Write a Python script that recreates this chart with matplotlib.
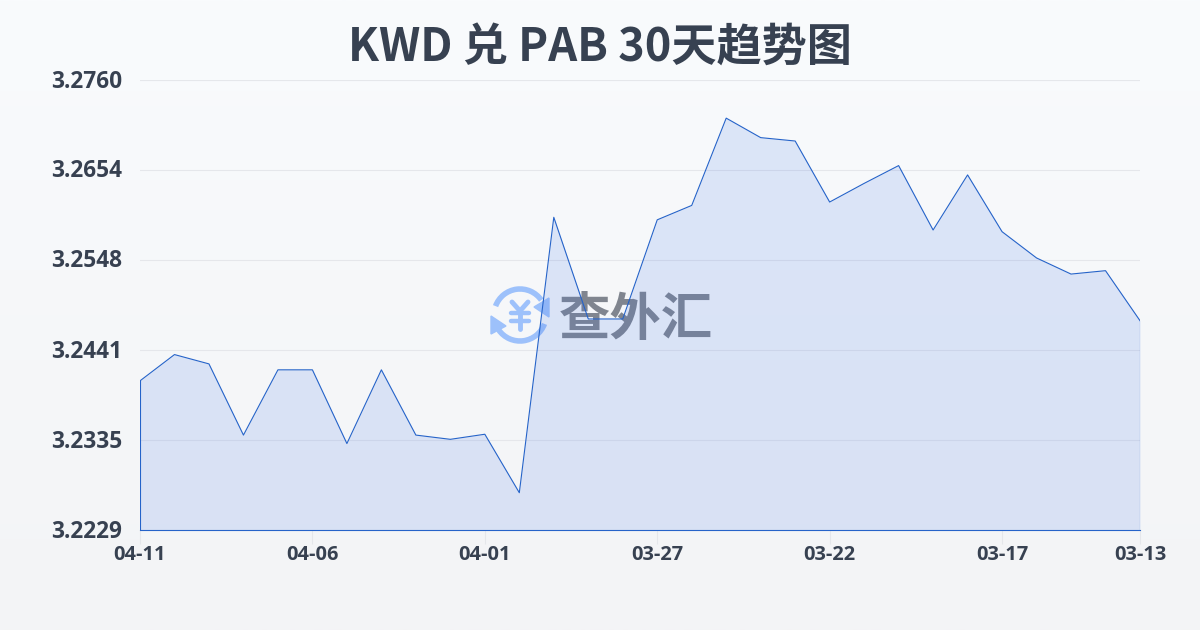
import matplotlib
matplotlib.use('Agg')
import matplotlib.pyplot as plt
from matplotlib.patches import Arc, Polygon
from matplotlib.transforms import ScaledTranslation
import numpy as np

plt.rcParams['font.family'] = ['Open Sans', 'Noto Sans', 'DejaVu Sans']

dates = ['04-11', '04-10', '04-09', '04-08', '04-07', '04-06', '04-05', '04-04', '04-03', '04-02',
         '04-01', '03-31', '03-30', '03-29', '03-28', '03-27', '03-26', '03-25', '03-24', '03-23',
         '03-22', '03-21', '03-20', '03-19', '03-18', '03-17', '03-16', '03-15', '03-14', '03-13']
rates = [3.2405, 3.2436, 3.2425, 3.2341, 3.2418, 3.2418, 3.2331, 3.2418, 3.2341, 3.2336,
         3.2342, 3.2273, 3.2598, 3.2478, 3.2478, 3.2595, 3.2612, 3.2715, 3.2692, 3.2688,
         3.2616, 3.2638, 3.2659, 3.2583, 3.2648, 3.2581, 3.2550, 3.2531, 3.2535, 3.2476]
y_ticks = [3.2229, 3.2335, 3.2441, 3.2548, 3.2654, 3.2760]
x_ticks = [0, 5, 10, 15, 20, 25, 29]
title = 'KWD 兑 PAB 30天趋势图'

W, H = 1200, 630
fig = plt.figure(figsize=(W / 100, H / 100), dpi=100)

# page background and watermark, in pixel coordinates
bg = fig.add_axes([0, 0, 1, 1], zorder=0)
grad = np.linspace(0, 1, 256).reshape(-1, 1, 1)
top = np.array([0xf9, 0xfb, 0xfd]) / 255
bottom = np.array([0xf3, 0xf4, 0xf6]) / 255
bg.imshow(top + (bottom - top) * grad, extent=[0, W, H, 0], aspect='auto')
bg.set_xlim(0, W)
bg.set_ylim(H, 0)
bg.axis('off')

blue = '#9dc1fb'
cx, cy = 520, 315
bg.add_patch(Arc((cx, cy), 52, 52, theta1=200, theta2=325, color=blue, lw=4))
bg.add_patch(Arc((cx, cy), 52, 52, theta1=20, theta2=145, color=blue, lw=4))
bg.add_patch(Polygon([[549, 298], [549, 317], [534, 307]], color=blue))
bg.add_patch(Polygon([[491, 316], [491, 334], [506, 326]], color=blue))
bg.plot([cx - 8, cx, cx + 8], [302, 311, 302], color=blue, lw=3.5, solid_capstyle='round')
bg.plot([cx, cx], [311, 329], color=blue, lw=3.5, solid_capstyle='round')
bg.plot([cx - 9, cx + 9], [313, 313], color=blue, lw=3.2, solid_capstyle='round')
bg.plot([cx - 9, cx + 9], [321, 321], color=blue, lw=3.2, solid_capstyle='round')
bg.text(636, 320, '查外汇', family=['Noto Sans CJK SC', 'DejaVu Sans'], fontsize=37, fontweight='bold',
        color='#80858f', ha='center', va='center')

fig.text(0.5, 1 - 48 / H, title, family=['Noto Sans CJK SC', 'DejaVu Sans'], fontsize=32.5,
         fontweight='bold', color='#374151', ha='center', va='center')

# plot area: x 140..1140, y 80..530
ax = fig.add_axes([140 / W, 1 - 530 / H, 1000 / W, 450 / H], zorder=1)
ax.patch.set_alpha(0)
x = np.arange(len(rates))
ax.fill_between(x, rates, y_ticks[0], color='#3f73e6', alpha=0.15, lw=0, zorder=2)
ax.plot(x, rates, color='#2563c9', lw=0.8, zorder=3)
ax.plot([0, 0], [y_ticks[0], rates[0]], color='#2563c9', lw=0.8, zorder=3)
ax.plot([29, 29], [y_ticks[0], rates[-1]], color='#2563c9', lw=0.8, zorder=3)

ax.set_xlim(0, 29)
ax.set_ylim(y_ticks[0], y_ticks[-1])
ax.set_yticks(y_ticks)
ax.set_yticklabels(['%.4f' % v for v in y_ticks], fontsize=16.3, fontweight='bold', color='#374151')
ax.set_xticks(x_ticks)
ax.set_xticklabels([dates[i] for i in x_ticks], fontsize=14.4, fontweight='bold', color='#374151')
ax.tick_params(axis='y', length=0, pad=13)
ax.tick_params(axis='x', length=10, width=0.8, color='#e5e7eb', pad=1)
ax.grid(axis='y', color='#e5e7eb', lw=0.8, zorder=1)
ax.set_axisbelow(True)
for side in ['top', 'left', 'right']:
    ax.spines[side].set_visible(False)
ax.spines['bottom'].set_color('#2563c9')
ax.spines['bottom'].set_linewidth(0.8)

# y labels sit a little above their gridlines
up = ScaledTranslation(0, 1.5 / 100, fig.dpi_scale_trans)
for lbl in ax.get_yticklabels():
    lbl.set_transform(lbl.get_transform() + up)

fig.savefig('out.png', dpi=100)
